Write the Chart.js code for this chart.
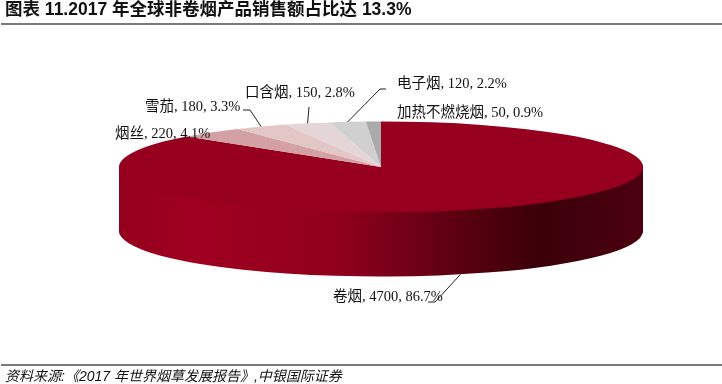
<!DOCTYPE html>
<html lang="zh">
<head>
  <meta charset="utf-8"/>
  <title>图表 11</title>
  <script src="https://cdn.jsdelivr.net/npm/chart.js"></script>
  <style>
    html, body { margin: 0; padding: 0; background: #fff; }
    canvas { display: block; }
  </style>
</head>
<body>
  <canvas id="pie" width="722" height="384"></canvas>
  <script>
    const categories = ['卷烟', '烟丝', '雪茄', '口含烟', '电子烟', '加热不燃烧烟'];
    const sales = [4700, 220, 180, 150, 120, 50];
    const shares = ['86.7', '4.1', '3.3', '2.8', '2.2', '0.9'];
    const colors = ['#96001e', '#d3a0a3', '#e3c6c6', '#e4d6d6', '#d0d0d0', '#aaaaaa'];

    // ellipse of the top face on the page, and wall height
    const cx = 381, cy = 167, rx = 262, ry = 45.5, depth = 64;
    const baseRadius = 150;

    // label anchor (left, middle baseline) and leader elbows, in page pixels
    const labelPos = [[333, 297], [115, 134], [145, 107], [245, 93], [397, 84], [397, 113]];
    const leaderAt = [0.52, null, 0.5, 0.5, 0.5, null];
    const leaderBend = [
      [[435, 302], [428, 302]],
      null,
      [[250, 110], [243, 110]],
      [[309, 107]],
      [[380, 89], [386, 89]],
      null
    ];

    const serif = '"Liberation Serif", "Noto Sans CJK SC", serif';

    function toPage(ctx, chart) {
      const area = chart.chartArea;
      ctx.translate(cx, cy);
      ctx.scale(rx / baseRadius, ry / baseRadius);
      ctx.translate(-(area.left + area.right) / 2, -(area.top + area.bottom) / 2);
    }

    const pie3d = {
      id: 'pie3d',
      beforeDatasetsDraw(chart) {
        const ctx = chart.ctx;
        const arc = chart.getDatasetMeta(0).data[0];
        const wall = ctx.createLinearGradient(arc.x - baseRadius, 0, arc.x + baseRadius, 0);
        wall.addColorStop(0, '#94001d');
        wall.addColorStop(0.14, '#a0001f');
        wall.addColorStop(0.42, '#90001c');
        wall.addColorStop(0.6, '#660014');
        wall.addColorStop(0.8, '#3a0008');
        wall.addColorStop(1, '#4c0010');
        const saved = arc.options;
        arc.options = Object.assign({}, saved, { backgroundColor: wall, borderWidth: 0 });
        for (let d = depth; d > 0; d--) {
          ctx.save();
          ctx.translate(0, d);
          toPage(ctx, chart);
          arc.draw(ctx);
          ctx.restore();
        }
        arc.options = saved;
        ctx.save();
        toPage(ctx, chart);
      },
      afterDatasetsDraw(chart) {
        const ctx = chart.ctx;
        ctx.restore();
        const arcs = chart.getDatasetMeta(0).data;

        // header and footer rules
        ctx.strokeStyle = '#7a7a7a';
        ctx.lineWidth = 2;
        ctx.beginPath();
        ctx.moveTo(1, 24); ctx.lineTo(722, 24);
        ctx.moveTo(1, 365); ctx.lineTo(722, 365);
        ctx.stroke();

        // leaders
        ctx.strokeStyle = '#222';
        ctx.lineWidth = 1;
        leaderBend.forEach((bend, i) => {
          if (!bend) return;
          const a = arcs[i].startAngle + (arcs[i].endAngle - arcs[i].startAngle) * leaderAt[i];
          const ax = cx + rx * Math.cos(a);
          let ay = cy + ry * Math.sin(a);
          if (Math.sin(a) > 0) ay += depth;
          ctx.beginPath();
          ctx.moveTo(ax, ay);
          bend.forEach(p => ctx.lineTo(p[0], p[1]));
          ctx.stroke();
        });

        // labels
        ctx.fillStyle = '#111';
        ctx.font = '14.5px ' + serif;
        ctx.textAlign = 'left';
        ctx.textBaseline = 'middle';
        categories.forEach((name, i) => {
          ctx.fillText(name + ', ' + sales[i] + ', ' + shares[i] + '%', labelPos[i][0], labelPos[i][1]);
        });
      }
    };

    new Chart(document.getElementById('pie'), {
      type: 'pie',
      data: {
        labels: categories,
        datasets: [{
          data: sales,
          backgroundColor: colors,
          borderWidth: 0,
          radius: baseRadius
        }]
      },
      options: {
        responsive: false,
        animation: false,
        layout: { padding: { left: 5 } },
        plugins: {
          legend: { display: false },
          tooltip: { enabled: false },
          title: {
            display: true,
            text: '图表 11.2017 年全球非卷烟产品销售额占比达 13.3%',
            align: 'start',
            color: '#111',
            padding: 0,
            font: { family: '"Liberation Sans", "Noto Sans CJK SC", sans-serif', size: 17.5, weight: 'bold' }
          },
          subtitle: {
            display: true,
            position: 'bottom',
            text: '资料来源:《2017 年世界烟草发展报告》,中银国际证券',
            align: 'start',
            color: '#111',
            padding: 0,
            font: { family: '"Liberation Sans", "Noto Sans CJK SC", sans-serif', size: 14, style: 'italic', lineHeight: 1 }
          }
        }
      },
      plugins: [pie3d]
    });
  </script>
</body>
</html>
